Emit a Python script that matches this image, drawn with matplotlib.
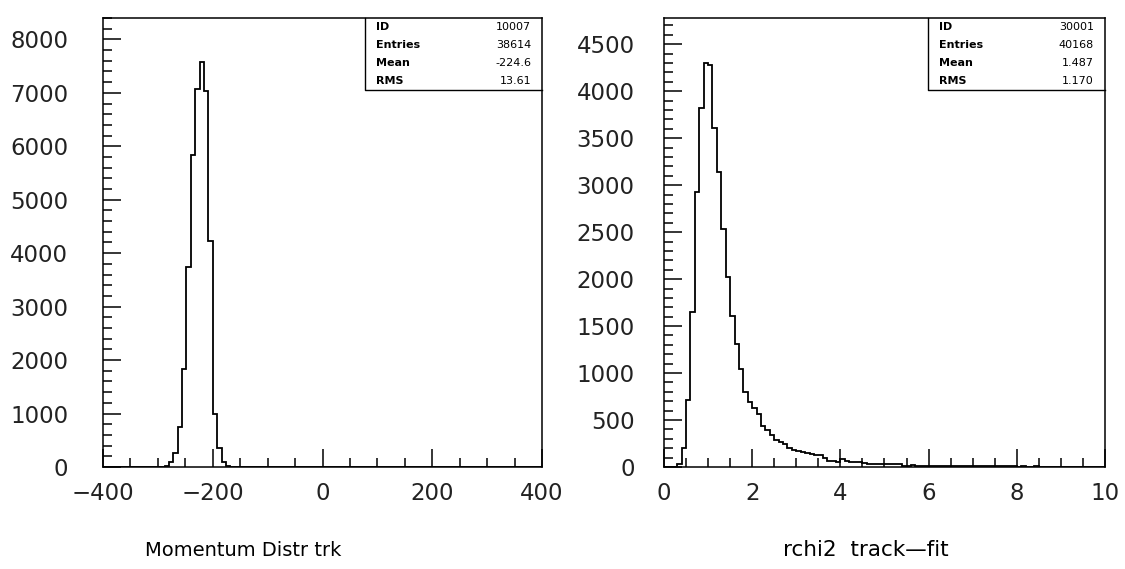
import numpy as np
import matplotlib
matplotlib.use("Agg")
import matplotlib.pyplot as plt
from matplotlib.ticker import MultipleLocator

# --- left histogram: Momentum Distr trk, 100 bins from -400 to 400
mom_edges = np.linspace(-400, 400, 101)
mom_counts = ([0] * 13 +
              [5, 20, 90, 270, 750, 1830, 3740, 5840, 7080, 7570, 7030,
               4230, 1000, 350, 100, 25] +
              [0] * 71)
mom_stats = [("ID", "10007"), ("Entries", "38614"),
             ("Mean", "-224.6"), ("RMS", "13.61")]

# --- right histogram: rchi2 track-fit, 100 bins from 0 to 10
chi_edges = np.linspace(0, 10, 101)
chi_counts = [0, 0, 0, 30, 202, 716, 1655, 2925, 3826, 4305,
              4280, 3606, 3145, 2532, 2021, 1602, 1308, 1043, 794, 687,
              627, 567, 439, 397, 344, 290, 265, 240, 205, 185,
              167, 155, 150, 140, 131, 125, 96, 62, 60, 58,
              83, 60, 52, 50, 48, 46, 34, 32, 31, 30,
              30, 28, 32, 30, 15, 14, 16, 13, 14, 12,
              12, 10, 11, 10, 9, 10, 9, 8, 9, 8,
              8, 7, 8, 7, 6, 7, 6, 6, 7, 6,
              5, 6, 5, 5, 6, 5, 4, 5, 4, 5,
              4, 4, 5, 4, 3, 4, 4, 3, 4, 3]
chi_stats = [("ID", "30001"), ("Entries", "40168"),
             ("Mean", "1.487"), ("RMS", "1.170")]

plt.rcParams['font.family'] = ['DejaVu Sans']

fig = plt.figure(figsize=(11.25, 5.69), dpi=100)
ax1 = fig.add_axes([0.0916, 0.1793, 0.3902, 0.7891])
ax2 = fig.add_axes([0.5902, 0.1793, 0.3920, 0.7891])


def style(ax, xmaj, xmin, ymaj, ymin, ypad):
    ax.xaxis.set_major_locator(MultipleLocator(xmaj))
    ax.xaxis.set_minor_locator(MultipleLocator(xmin))
    ax.yaxis.set_major_locator(MultipleLocator(ymaj))
    ax.yaxis.set_minor_locator(MultipleLocator(ymin))
    ax.tick_params(which='both', direction='in', top=False, right=False,
                   width=1.1, color='black')
    ax.tick_params(which='major', length=13)
    ax.tick_params(which='minor', length=6.5)
    ax.tick_params(axis='x', which='major', pad=11, labelsize=16.5)
    ax.tick_params(axis='y', which='major', pad=ypad, labelsize=16.5)
    for lab in ax.get_xticklabels() + ax.get_yticklabels():
        lab.set_color('#222222')
    for s in ax.spines.values():
        s.set_linewidth(1.1)


def stats_box(ax, rows, x0):
    # PAW style statistics box in upper right corner
    y0, y1 = 0.84, 1.0
    ax.plot([x0, x0, 1.0], [1.0, y0, y0], transform=ax.transAxes,
            color='black', lw=1.0, clip_on=False)
    h = (y1 - y0) / len(rows)
    for i, (k, v) in enumerate(rows):
        yy = y1 - h * (i + 0.5)
        ax.text(x0 + 0.025, yy, k, transform=ax.transAxes, fontsize=8,
                fontweight='bold', va='center', ha='left')
        ax.text(0.975, yy, v, transform=ax.transAxes, fontsize=8,
                va='center', ha='right')


ax1.stairs(mom_counts, mom_edges, color='black', lw=1.3)
ax1.set_xlim(-400, 400)
ax1.set_ylim(0, 8400)
style(ax1, 200, 50, 1000, 200, 25)
stats_box(ax1, mom_stats, 0.597)

ax2.stairs(chi_counts, chi_edges, color='black', lw=1.3)
ax2.set_xlim(0, 10)
ax2.set_ylim(0, 4780)
style(ax2, 2, 0.5, 500, 100, 21)
stats_box(ax2, chi_stats, 0.599)

fig.text(243 / 1125, 1 - 550 / 569, "Momentum Distr trk", fontsize=14,
         ha='center', va='center')
fig.text(866 / 1125, 1 - 550 / 569, "rchi2  track\u2014fit", fontsize=15.5,
         ha='center', va='center')

fig.savefig("out.png", dpi=100)
